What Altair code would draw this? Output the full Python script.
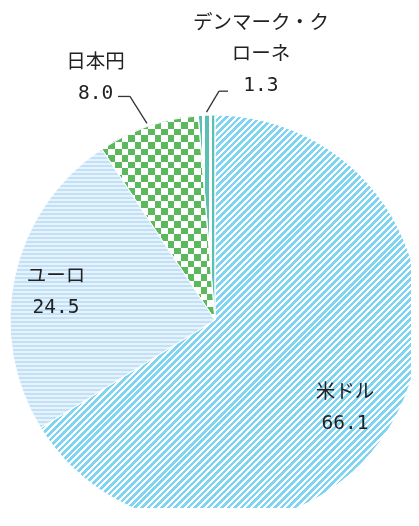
import math
import altair as alt
import pandas as pd

# ---- data ----
categories = ["米ドル", "ユーロ", "日本円", "デンマーク・クローネ"]
shares = [66.1, 24.5, 8.0, 1.3]
label_names = ["米ドル", "ユーロ", "日本円", "デンマーク・ク\nローネ"]

df = pd.DataFrame({
    "idx": list(range(len(categories))),
    "cat": categories,
    "value": shares,
    "name": label_names,
})

# ---- layout / style ----
CX, CY = 207, 312      # pie centre inside the view
R = 205                # pie radius
FONT = "DejaVu Sans Mono, Noto Sans CJK JP"
TEXT_COLOR = "#222222"

total = sum(shares)
angles = []
acc = 0.0
for v in shares:
    a0 = acc / total * 2 * math.pi
    acc += v
    a1 = acc / total * 2 * math.pi
    angles.append((a0, a1))


def slice_bbox(a0, a1):
    pts = [(0.0, 0.0), (R * math.sin(a0), -R * math.cos(a0)), (R * math.sin(a1), -R * math.cos(a1))]
    for k in range(5):
        a = k * math.pi / 2
        if a0 < a < a1:
            pts.append((R * math.sin(a), -R * math.cos(a)))
    xs = [p[0] for p in pts]
    ys = [p[1] for p in pts]
    return max(xs) - min(xs), max(ys) - min(ys)


def stripes(W, H, nx, ny, period, c1, c2, frac):
    L = W * nx + H * ny
    s = L / (W * W * nx * nx + H * H * ny * ny)
    a, b = W * nx * s, H * ny * s
    n = int(math.ceil(L / period))
    stops = []
    for k in range(n):
        o0 = k * period / L
        o1 = min((k + frac) * period / L, 1.0)
        o2 = min((k + 1) * period / L, 1.0)
        stops += [(o0, c1), (o1, c1), (o1, c2), (o2, c2)]
    return {
        "gradient": "linear", "x1": 0, "y1": 0, "x2": round(a, 6), "y2": round(b, 6),
        "stops": [{"offset": round(o, 6), "color": c} for o, c in stops],
    }


bb = {c: slice_bbox(*ang) for c, ang in zip(categories, angles)}
d45 = math.sqrt(0.5)
g_usd = stripes(*bb["米ドル"], d45, d45, 4.7, "#7fd3f3", "#ffffff", 0.55)
g_eur = stripes(*bb["ユーロ"], 0, 1, 4.0, "#c3e1f6", "#e6f3fc", 0.55)
g_jpy_h = stripes(*bb["日本円"], 0, 1, 13.2, "#ffffff", "#000000", 0.5)
g_jpy_v = stripes(*bb["日本円"], 1, 0, 13.2, "#000000", "#ffffff", 0.5)
g_dkk = stripes(*bb["デンマーク・クローネ"], 1, 0, 7.0, "#5bbfb3", "#ffffff", 0.5)

base = alt.Chart(df).encode(
    theta=alt.Theta("value:Q", stack=True),
    order=alt.Order("idx:Q"),
    x=alt.value(CX),
    y=alt.value(CY),
)

fill_main = (
    alt.when(alt.datum.cat == "米ドル").then(alt.value(g_usd))
    .when(alt.datum.cat == "ユーロ").then(alt.value(g_eur))
    .when(alt.datum.cat == "日本円").then(alt.value(g_jpy_h))
    .otherwise(alt.value(g_dkk))
)
arc_a = base.mark_arc(radius=R).encode(fill=fill_main)
arc_b = base.mark_arc(radius=R, blend="difference").encode(
    fill=alt.when(alt.datum.cat == "日本円").then(alt.value(g_jpy_v)).otherwise(alt.value("transparent"))
)
arc_c = base.mark_arc(radius=R, blend="screen").encode(
    fill=alt.when(alt.datum.cat == "日本円").then(alt.value("#5cb85c")).otherwise(alt.value("transparent"))
)
arc_d = base.mark_arc(radius=R, fill="transparent", fillOpacity=0, stroke="white", strokeWidth=1)


def text_layer(cat, r, dx, dy):
    expr = f"datum.cat == '{cat}' ? datum.name + '\\n' + format(datum.value, '.1f') : ''"
    return base.transform_calculate(t=expr).mark_text(
        radius=r, dx=dx, dy=dy, font=FONT, fontSize=19.5, lineBreak="\n", lineHeight=31,
        align="center", baseline="middle", color=TEXT_COLOR,
    ).encode(text="t:N")


texts = [
    text_layer("米ドル", 150, -1, -1),
    text_layer("ユーロ", 150, -12.5, -12),
    text_layer("日本円", 260, -34.4, -12.5),
    text_layer("デンマーク・クローネ", 260, 56.6, -37.5),
]


def leader(cat, ex, ey, hx):
    ch = (
        alt.Chart(df)
        .transform_joinaggregate(total="sum(value)")
        .transform_window(cum="sum(value)", sort=[alt.SortField("idx")], frame=[None, 0])
        .transform_calculate(
            mid="(datum.cum - datum.value / 2) / datum.total * 2 * PI",
        )
        .transform_calculate(
            x0=f"{CX} + {R + 3} * sin(datum.mid)",
            y0=f"{CY} - {R + 3} * cos(datum.mid)",
        )
        .transform_filter(alt.datum.cat == cat)
        .transform_calculate(
            x1=f"datum.x0 + ({ex})",
            y1=f"datum.y0 + ({ey})",
            x2=f"datum.x0 + ({ex}) + ({hx})",
        )
    )
    diag = ch.mark_rule(color="#333333", strokeWidth=1.3).encode(
        x=alt.X("x0:Q", scale=None, axis=None),
        y=alt.Y("y0:Q", scale=None, axis=None),
        x2="x1:Q",
        y2="y1:Q",
    )
    horiz = ch.mark_rule(color="#333333", strokeWidth=1.3).encode(
        x=alt.X("x1:Q", scale=None, axis=None),
        y=alt.Y("y1:Q", scale=None, axis=None),
        x2="x2:Q",
    )
    return [diag, horiz]


leaders = leader("日本円", -17, -27, -12) + leader("デンマーク・クローネ", 12.5, -21, 9)

chart = alt.layer(arc_a, arc_b, arc_c, arc_d, *texts, *leaders).properties(
    width=403, height=500, padding=0, autosize="none", background="white"
).configure_view(stroke=None)

chart.save("out.html", embed_options={"renderer": "svg", "actions": False})
